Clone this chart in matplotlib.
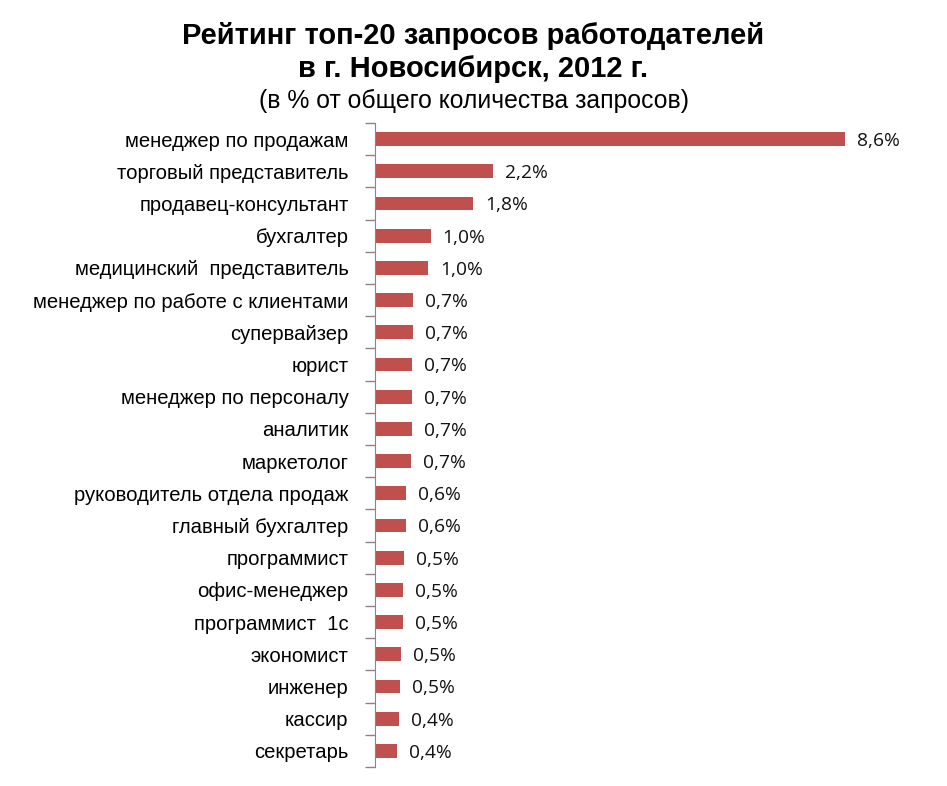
import matplotlib.pyplot as plt

# top-20 employer requests, Novosibirsk 2012
jobs = ["менеджер по продажам", "торговый представитель", "продавец-консультант",
        "бухгалтер", "медицинский  представитель", "менеджер по работе с клиентами",
        "супервайзер", "юрист", "менеджер по персоналу", "аналитик", "маркетолог",
        "руководитель отдела продаж", "главный бухгалтер", "программист",
        "офис-менеджер", "программист  1с", "экономист", "инженер", "кассир", "секретарь"]
share = [8.6, 2.16, 1.79, 1.02, 0.97, 0.70, 0.70, 0.68, 0.67, 0.67, 0.66,
         0.56, 0.56, 0.53, 0.52, 0.51, 0.48, 0.46, 0.44, 0.40]
labels = ["8,6%", "2,2%", "1,8%", "1,0%", "1,0%", "0,7%", "0,7%", "0,7%", "0,7%", "0,7%",
          "0,7%", "0,6%", "0,6%", "0,5%", "0,5%", "0,5%", "0,5%", "0,5%", "0,4%", "0,4%"]

fig = plt.figure(figsize=(9.47, 7.86), dpi=100)
ax = fig.add_axes([375/947, 1 - 767/786, 546/947, 644/786])

y = list(range(len(jobs)))
ax.barh(y, share, height=0.43, color="#c0504d")
ax.set_ylim(len(jobs) - 0.5, -0.5)
ax.set_xlim(0, 10)

for yi, v, lab in zip(y, share, labels):
    ax.text(v + 0.22, yi + 0.06, lab, va="center", ha="left", fontsize=13.8,
            family="Open Sans", color="#111111")

ax.set_yticks([i + 0.5 for i in range(-1, len(jobs))])
ax.set_yticklabels([])
ax.set_yticks(y, minor=True)
ax.set_yticklabels(jobs, minor=True, fontsize=14.6, family="Liberation Sans")
ax.tick_params(axis="y", which="major", length=7, width=1, color="#868686", direction="out")
ax.tick_params(axis="y", which="minor", length=0, pad=19)
ax.set_xticks([])
for s in ["top", "right", "bottom"]:
    ax.spines[s].set_visible(False)
ax.spines["left"].set_color("#868686")

fig.text(0.5, 1 - 36/786, "Рейтинг топ-20 запросов работодателей", ha="center", va="center",
         fontsize=21, fontweight="bold", family="Liberation Sans")
fig.text(0.5, 1 - 69/786, "в г. Новосибирск, 2012 г.", ha="center", va="center",
         fontsize=21, fontweight="bold", family="Liberation Sans")
fig.text(0.5, 1 - 101/786, "(в % от общего количества запросов)", ha="center", va="center",
         fontsize=17.8, family="Liberation Sans")

fig.savefig("out.png", dpi=100)
